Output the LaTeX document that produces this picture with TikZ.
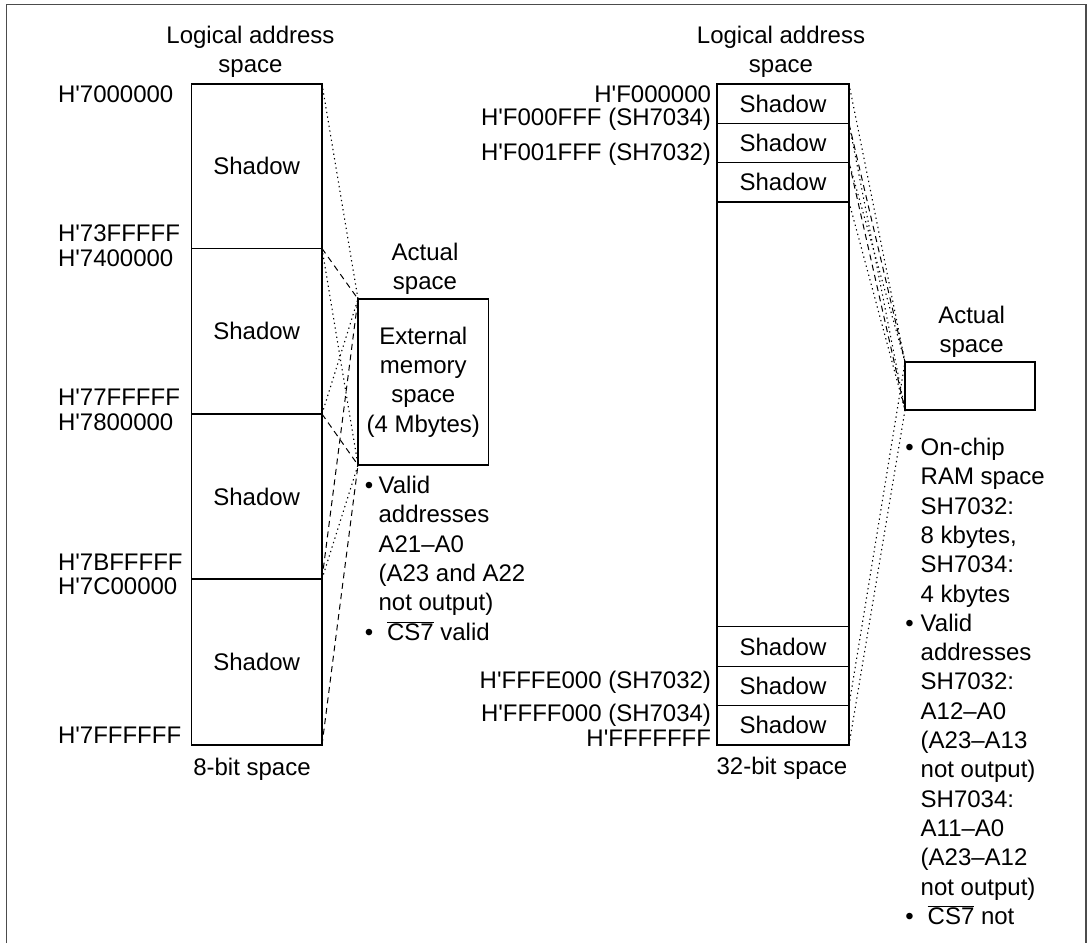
\documentclass[tikz,border=0pt]{standalone}
\usepackage{fontspec}
\setmainfont{Liberation Sans}[Ligatures=TeXOff]
\newcommand{\fsz}{\fontsize{24}{29.3}\selectfont}
\newcommand{\csbar}{$\overline{\mbox{CS7}}$}
\begin{document}
\begin{tikzpicture}[x=1pt,y=-1pt,
  every node/.style={font=\fsz, inner sep=0pt, outer sep=0pt},
  cellL/.style={draw, line width=1.2pt, minimum width=130.6pt},
  cellR/.style={draw, line width=1.2pt, minimum width=132pt},
  lab/.style={anchor=base west},
  rlab/.style={anchor=base east},
  dotline/.style={line width=1.1pt, dash pattern=on 1.3pt off 3.4pt},
  dashline/.style={line width=1pt, dash pattern=on 6pt off 4.5pt},
  framec/.style={line width=1.3pt, black!70}]
\useasboundingbox (0,0) rectangle (1090,943);
\draw[framec] (6.5,943) -- (6.5,4.5) -- (1086,4.5) -- (1086,943);

% ---------- left ----------
\node[align=center, anchor=base] (lt) at (250.5,72.8) {Logical address\\space};
\node[cellL, minimum height=164.5pt] (l1) at (256.7,166.25) {Shadow};
\node[cellL, minimum height=165.5pt] (l2) at (256.7,331.25) {Shadow};
\node[cellL, minimum height=165pt] (l3) at (256.7,496.5) {Shadow};
\node[cellL, minimum height=166pt] (l4) at (256.7,662) {Shadow};
\node[lab] (a1) at (58,102.5) {H'7000000};
\node[lab] (a2) at (58,241.5) {H'73FFFFF};
\node[lab] (a3) at (58,266.5) {H'7400000};
\node[lab] (a4) at (58,405.5) {H'77FFFFF};
\node[lab] (a5) at (58,430.5) {H'7800000};
\node[lab] (a6) at (58,570.5) {H'7BFFFFF};
\node[lab] (a7) at (58,594.5) {H'7C00000};
\node[lab] (a8) at (58,743.5) {H'7FFFFFF};
\node[anchor=base] (l8) at (252,775) {8-bit space};

\node[align=center, anchor=base] (lact) at (425,289.8) {Actual\\space};
\node[draw, line width=1.2pt, minimum width=130.6pt, minimum height=166pt, align=center] (ext) at (423.3,382) {External\\memory\\space\\(4 Mbytes)};
\node[anchor=base] (lb1) at (369,493.5) {•};
\node[anchor=base] (lb2) at (369,640) {•};
\node[align=left, anchor=base west] (lnote) at (378.6,640) {Valid\\addresses\\A21–A0\\(A23 and A22\\not output)\\\hspace{8.4pt}\csbar{} valid};

\draw[dotline] (l1.north east) -- (ext.north west);
\draw[dotline] (l1.south east) -- (ext.south west);
\draw[dashline] (l2.north east) -- (ext.north west);
\draw[dashline] (l2.south east) -- (ext.south west);
\draw[dotline] (l3.north east) -- (ext.north west);
\draw[dotline] (l3.south east) -- (ext.south west);
\draw[dashline] (l4.north east) -- (ext.north west);
\draw[dashline] (l4.south east) -- (ext.south west);

% ---------- right ----------
\node[align=center, anchor=base] (rt) at (781,72.8) {Logical address\\space};
\node[cellR, minimum height=39.7pt] (r1) at (783,103.85) {Shadow};
\node[cellR, minimum height=38.6pt] (r2) at (783,143) {Shadow};
\node[cellR, minimum height=39.7pt] (r3) at (783,182.15) {Shadow};
\node[cellR, minimum height=424.7pt] (r4) at (783,414.35) {};
\node[cellR, minimum height=40pt] (r5) at (783,646.7) {Shadow};
\node[cellR, minimum height=38.6pt] (r6) at (783,686) {Shadow};
\node[cellR, minimum height=39.7pt] (r7) at (783,725.15) {Shadow};
\node[rlab] (b1) at (711,102.5) {H'F000000};
\node[rlab] (b2) at (711,125.5) {H'F000FFF (SH7034)};
\node[rlab] (b3) at (711,160.5) {H'F001FFF (SH7032)};
\node[rlab] (b4) at (711,688.5) {H'FFFE000 (SH7032)};
\node[rlab] (b5) at (711,721.5) {H'FFFF000 (SH7034)};
\node[rlab] (b6) at (711,746.5) {H'FFFFFFF};
\node[anchor=base] (r32) at (782,774) {32-bit space};

\node[align=center, anchor=base] (ract) at (971.6,352.8) {Actual\\space};
\node[draw, line width=1.2pt, minimum width=130pt, minimum height=48pt] (ram) at (970,386) {};
\node[anchor=base] (rb1) at (909.5,455.5) {•};
\node[anchor=base] (rb2) at (909.5,631.3) {•};
\node[anchor=base] (rb3) at (909.5,924.3) {•};
\node[align=left, anchor=base west] (rnote) at (920.7,924.3) {On-chip\\RAM space\\SH7032:\\8 kbytes,\\SH7034:\\4 kbytes\\Valid\\addresses\\SH7032:\\A12–A0\\(A23–A13\\not output)\\SH7034:\\A11–A0\\(A23–A12\\not output)\\\hspace{7pt}\csbar{} not};

\draw[dotline] (r1.north east) -- (ram.north west);
\draw[dotline] (r1.south east) -- (ram.south west);
\draw[dashline] (r2.north east) -- (ram.north west);
\draw[dashline] (r2.south east) -- (ram.south west);
\draw[dotline] (r3.north east) -- (ram.north west);
\draw[dotline] (r3.south east) -- (ram.south west);
\draw[dotline] (r7.north east) -- (ram.north west);
\draw[dotline] (r7.south east) -- (ram.south west);
\end{tikzpicture}
\end{document}
